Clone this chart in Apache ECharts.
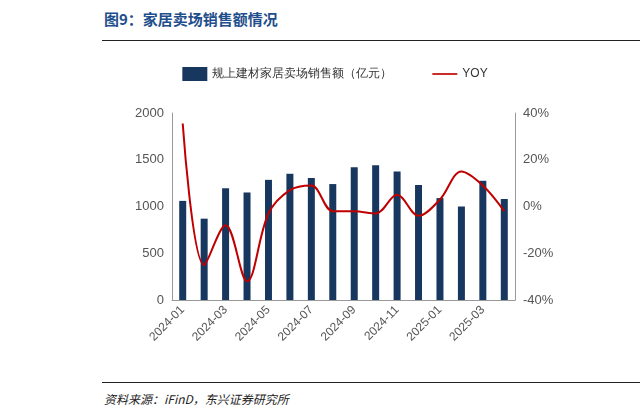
<!DOCTYPE html>
<html><head><meta charset="utf-8">
<script src="https://cdn.jsdelivr.net/npm/echarts@6/dist/echarts.min.js"></script>
<style>
body{margin:0;background:#fff;font-family:"Noto Sans CJK SC",sans-serif;}
#title{position:absolute;left:104px;top:8px;font-size:15px;font-weight:bold;color:#1f4e8c;}
#rule1{position:absolute;left:102px;top:40px;width:538px;border-top:1px solid #222;}
#rule2{position:absolute;left:102px;top:382px;width:538px;border-top:1px solid #222;}
#src{position:absolute;left:104px;top:390px;font-size:12px;font-style:italic;color:#222;}
#chart{position:absolute;left:100px;top:50px;width:470px;height:330px;}
</style></head>
<body>
<div id="title">图9：家居卖场销售额情况</div>
<div id="rule1"></div>
<div id="chart"></div>
<div id="rule2"></div>
<div id="src">资料来源：iFinD，东兴证券研究所</div>
<script>
const months = ['2024-01','2024-02','2024-03','2024-04','2024-05','2024-06','2024-07','2024-08','2024-09','2024-10','2024-11','2024-12','2025-01','2025-02','2025-03','2025-04'];
const sales = [1060, 870, 1195, 1150, 1285, 1350, 1305, 1240, 1420, 1440, 1375, 1230, 1090, 1000, 1275, 1080];
const yoy = [35.5, -25, -8, -32, -3, 7, 9, -2, -2, -3, 5, -4, 3, 15, 9, -2];

const chart = echarts.init(document.getElementById('chart'));
chart.setOption({
  animation: false,
  legend: {
    top: 12, left: 'center', itemGap: 40, textStyle: {fontSize: 12, color: '#333'},
    data: [{name: '规上建材家居卖场销售额（亿元）', icon: 'rect'},
           {name: 'YOY', icon: 'path://M0,4L30,4L30,6L0,6Z'}]
  },
  grid: {left: 72, right: 55, top: 63, bottom: 80},
  xAxis: {
    type: 'category', data: months,
    axisLine: {lineStyle: {color: '#999'}}, axisTick: {show: false},
    axisLabel: {interval: 1, rotate: 45, color: '#555', fontSize: 12}
  },
  yAxis: [
    {type: 'value', min: 0, max: 2000, interval: 500, splitLine: {show: false},
     axisLine: {show: true, lineStyle: {color: '#999'}},
     axisLabel: {color: '#555', fontSize: 13, formatter: v => String(v)}},
    {type: 'value', min: -40, max: 40, interval: 20, splitLine: {show: false},
     axisLine: {show: true, lineStyle: {color: '#999'}},
     axisLabel: {color: '#555', fontSize: 13, formatter: '{value}%'}}
  ],
  series: [
    {name: '规上建材家居卖场销售额（亿元）', type: 'bar', data: sales, barWidth: 7, itemStyle: {color: '#17375e'}},
    {name: 'YOY', type: 'line', yAxisIndex: 1, data: yoy, smooth: 0.35, symbol: 'none',
     lineStyle: {color: '#c00000', width: 2}, itemStyle: {color: '#c00000'}}
  ]
});
</script>
</body></html>
